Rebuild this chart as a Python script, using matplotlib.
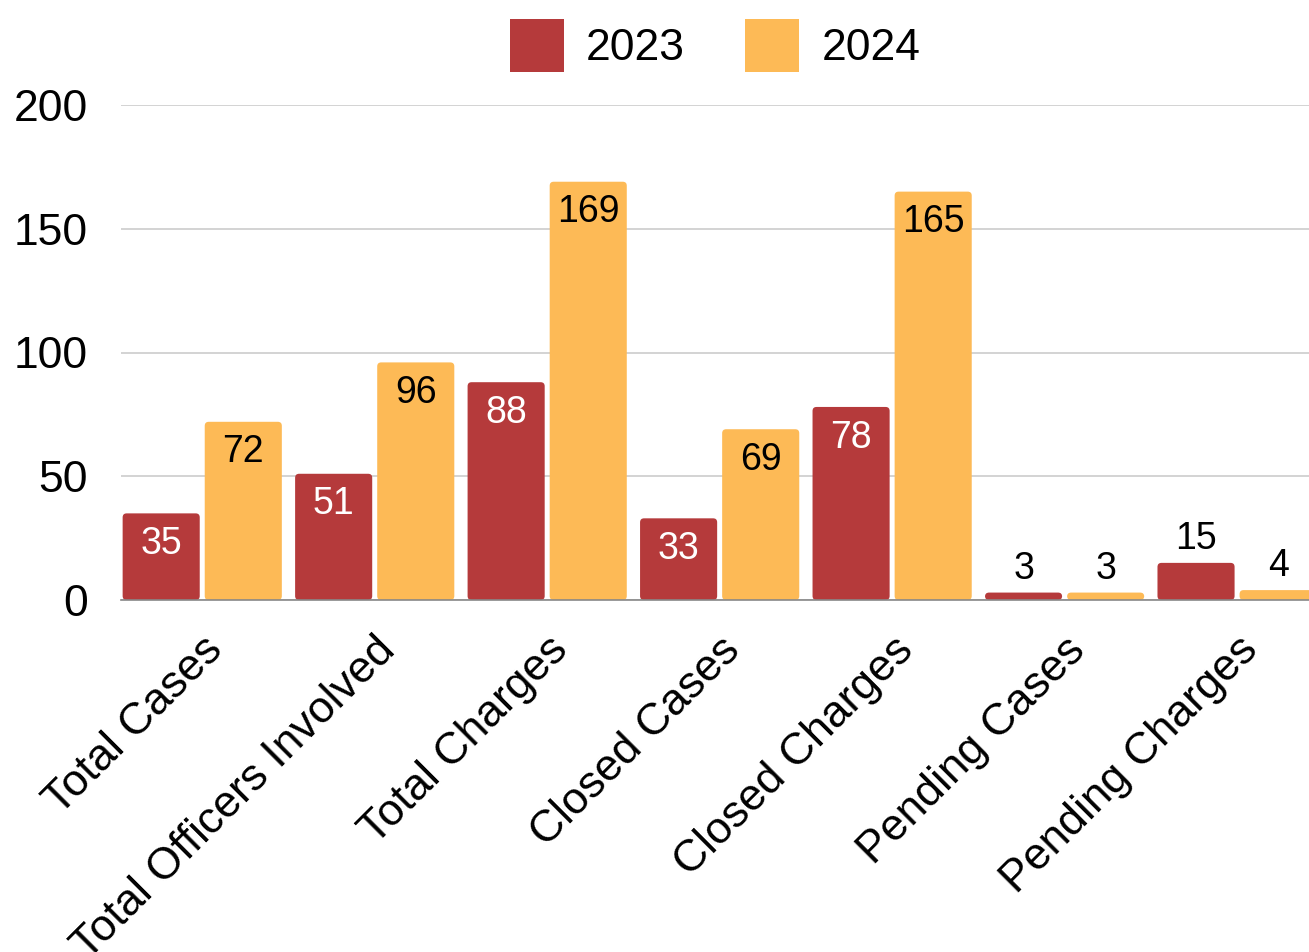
import numpy as np
import matplotlib
matplotlib.use("Agg")
import matplotlib.pyplot as plt
from matplotlib.patches import FancyBboxPatch, Patch

plt.rcParams["font.family"] = ["Liberation Sans", "DejaVu Sans"]

categories = ["Total Cases", "Total Officers Involved", "Total Charges",
              "Closed Cases", "Closed Charges", "Pending Cases", "Pending Charges"]
series_names = ["2023", "2024"]
values_2023 = [35, 51, 88, 33, 78, 3, 15]
values_2024 = [72, 96, 169, 69, 165, 3, 4]
y_ticks = [0, 50, 100, 150, 200]

RED = "#B53A3B"
YELLOW = "#FDBA56"

fig = plt.figure(figsize=(13.09, 9.52), dpi=100)
ax = fig.add_axes([121 / 1309, 1 - 600 / 952, 1 - 121 / 1309, (600 - 105) / 952])

x = np.arange(len(categories))
w = 0.447
off = 0.238

b1 = ax.bar(x - off, values_2023, w, color=RED, zorder=2)
b2 = ax.bar(x + off, values_2024, w, color=YELLOW, zorder=2)

ax.set_ylim(0, 200)
ax.set_xlim(-0.471, 6.417)

# angoli leggermente arrotondati: sostituisco i rettangoli con FancyBboxPatch
r_x = 4 / 172.5
aspect = (4 * 200 / 495) / r_x
for bars in (b1, b2):
    for b in bars:
        b.set_visible(False)
        p = FancyBboxPatch((b.get_x(), b.get_y()), b.get_width(), b.get_height(),
                           boxstyle=f"round,pad=0,rounding_size={r_x}",
                           mutation_aspect=aspect, facecolor=b.get_facecolor(),
                           edgecolor="none", zorder=2)
        ax.add_patch(p)

# etichette: dentro la barra se c'e' spazio, altrimenti sopra
for bars, vals, inner_color in ((b1, values_2023, "white"), (b2, values_2024, "black")):
    for b, v in zip(bars, vals):
        cx = b.get_x() + b.get_width() / 2
        if v >= 20:
            ax.annotate(f"{v}", (cx, v), xytext=(0, -22), textcoords="offset points",
                        ha="center", va="center", fontsize=27, color=inner_color, zorder=3)
        else:
            ax.annotate(f"{v}", (cx, v), xytext=(0, 17), textcoords="offset points",
                        ha="center", va="center", fontsize=27, color="black", zorder=3)

ax.set_yticks(y_ticks)
ax.set_yticklabels([str(t) for t in y_ticks], fontsize=32)
ax.tick_params(axis="y", length=0, pad=24)
ax.tick_params(axis="x", length=0, pad=21)
ax.set_xticks(x)
ax.set_xticklabels(categories, rotation=45, ha="right", rotation_mode="anchor", fontsize=32)
ax.grid(axis="y", color="#cccccc", lw=1.2, zorder=0)
for s in ("top", "right", "left"):
    ax.spines[s].set_visible(False)
ax.spines["bottom"].set_color("#888888")
ax.spines["bottom"].set_linewidth(1.2)
ax.spines["bottom"].set_zorder(2.5)

handles = [Patch(facecolor=RED, label=series_names[0]),
           Patch(facecolor=YELLOW, label=series_names[1])]
ax.legend(handles=handles, loc="lower center", bbox_to_anchor=(0.5, 1.0), ncol=2,
          frameon=False, fontsize=32, handlelength=1.22, handleheight=1.45,
          columnspacing=1.35, handletextpad=0.5, borderaxespad=0.35)

fig.savefig("out.png", dpi=100)
